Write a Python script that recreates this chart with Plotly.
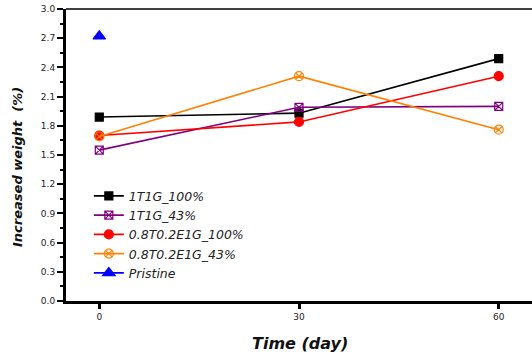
import plotly.graph_objects as go

days = [0, 30, 60]
s_1t1g_100 = [1.89, 1.93, 2.49]
s_1t1g_43 = [1.55, 1.99, 2.00]
s_08_100 = [1.70, 1.84, 2.31]
s_08_43 = [1.69, 2.31, 1.76]
pristine_x = [0]
pristine_y = [2.72]
x_ticks = [0, 30, 60]
y_ticks = [0.0, 0.3, 0.6, 0.9, 1.2, 1.5, 1.8, 2.1, 2.4, 2.7, 3.0]

series = [
    ("1T1G_100%", days, s_1t1g_100, "#000000", "square", 8),
    ("1T1G_43%", days, s_1t1g_43, "#800080", "square-x-open", 8),
    ("0.8T0.2E1G_100%", days, s_08_100, "#ff0000", "circle", 9),
    ("0.8T0.2E1G_43%", days, s_08_43, "#ff8000", "circle-x-open", 9),
    ("Pristine", pristine_x, pristine_y, "#0000ff", "triangle-up", 11),
]

FONT = "DejaVu Sans, Liberation Sans, Arial"

fig = go.Figure()
for name, xs, ys, col, sym, sz in series:
    fig.add_trace(go.Scatter(
        x=xs, y=ys, name=name, mode="lines+markers",
        line=dict(color=col, width=1.6),
        marker=dict(color=col, symbol=sym, size=sz, line=dict(color=col, width=1.2)),
    ))

fig.update_layout(
    width=532, height=354,
    margin=dict(l=66, r=0, t=9, b=53, autoexpand=False),
    plot_bgcolor="white", paper_bgcolor="white",
    showlegend=True,
    legend=dict(
        x=0.049, y=0.41, xanchor="left", yanchor="top",
        bgcolor="rgba(0,0,0,0)",
        font=dict(family=FONT, size=12.5, color="#222", style="italic"),
        tracegroupgap=0,
    ),
    font=dict(family=FONT, color="#222"),
)

fig.update_xaxes(
    range=[-5, 65], tickvals=x_ticks, ticktext=[str(v) for v in x_ticks],
    showgrid=False, zeroline=False, automargin=False,
    showline=True, linecolor="black", linewidth=3,
    ticks="outside", ticklen=5, tickwidth=3, tickcolor="black",
    tickfont=dict(family=FONT, size=9, color="#222"),
)
fig.update_yaxes(
    range=[0, 3.0], tickvals=y_ticks, ticktext=["%.1f" % v for v in y_ticks],
    showgrid=False, zeroline=False, automargin=False,
    showline=True, linecolor="black", linewidth=3,
    ticks="outside", ticklen=6, tickwidth=1.5, tickcolor="black",
    tickfont=dict(family=FONT, size=9, color="#222"),
    minor=dict(dtick=0.15, tick0=0, ticks="outside", ticklen=3, tickwidth=1.5, tickcolor="black"),
)

fig.add_annotation(text="Time (day)", xref="paper", yref="paper", x=0.502, y=-0.147,
                   showarrow=False, xanchor="center", yanchor="middle",
                   font=dict(family=FONT, size=16, weight="bold", style="italic", color="#111"))
fig.add_annotation(text="Increased weight  (%)", xref="paper", yref="paper", x=-0.103, y=0.459,
                   showarrow=False, xanchor="center", yanchor="middle", textangle=-90,
                   font=dict(family=FONT, size=13, weight="bold", style="italic", color="#111"))

fig.add_shape(type="line", xref="paper", yref="paper", x0=0, x1=1, y0=1, y1=1,
              line=dict(color="black", width=1.5))

fig.write_html("out.html", config={"displayModeBar": False},
               post_script="document.body.style.margin='0';")
